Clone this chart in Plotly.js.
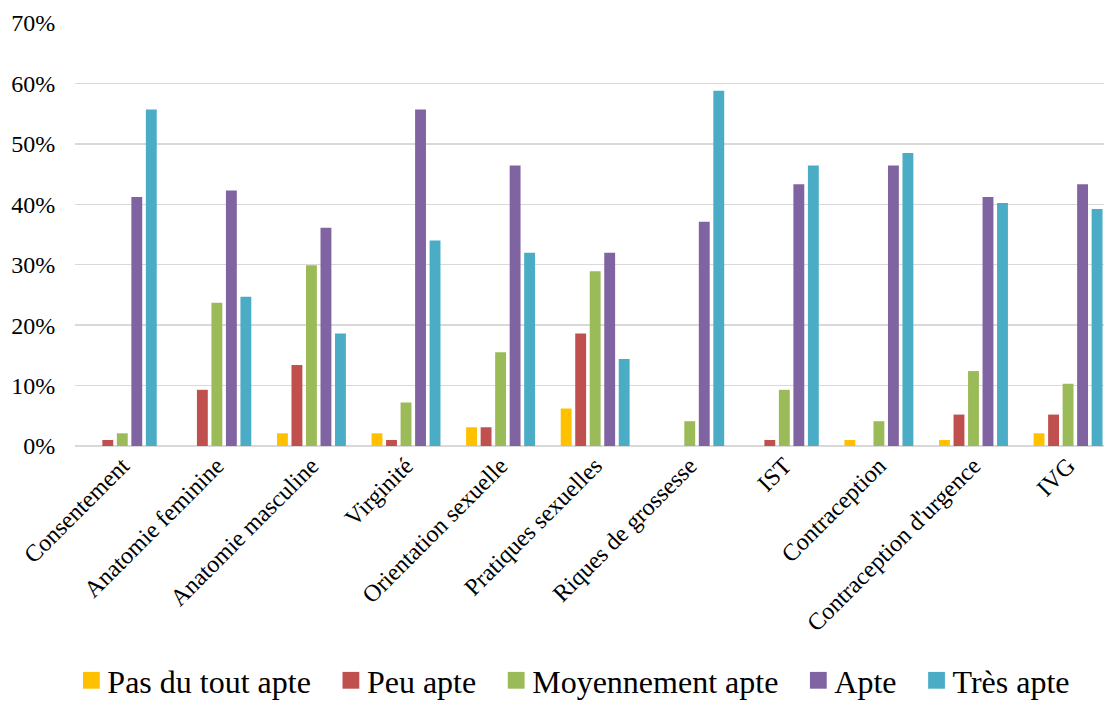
<!DOCTYPE html>
<html>
<head>
<meta charset="utf-8">
<script src="https://cdn.plot.ly/plotly-3.0.1.min.js"></script>
<style>html,body{margin:0;padding:0;background:#fff;}#chart{width:1104px;height:708px;}</style>
</head>
<body>
<div id="chart"></div>
<script>
const categories = ["Consentement","Anatomie feminine","Anatomie masculine","Virginité","Orientation sexuelle","Pratiques sexuelles","Riques de grossesse","IST","Contraception","Contraception d'urgence","IVG"];
const seriesNames = ["Pas du tout apte","Peu apte","Moyennement apte","Apte","Très apte"];
const pasDuTout = [0, 0, 2.1, 2.1, 3.1, 6.2, 0, 0, 1.0, 1.0, 2.1];
const peu = [1.0, 9.3, 13.4, 1.0, 3.1, 18.6, 0, 1.0, 0, 5.2, 5.2];
const moyen = [2.1, 23.7, 29.9, 7.2, 15.5, 28.9, 4.1, 9.3, 4.1, 12.4, 10.3];
const apte = [41.2, 42.3, 36.1, 55.7, 46.4, 32.0, 37.1, 43.3, 46.4, 41.2, 43.3];
const tresApte = [55.7, 24.7, 18.6, 34.0, 32.0, 14.4, 58.8, 46.4, 48.5, 40.2, 39.2];
const colors = ["#FFC000","#C0504D","#9BBB59","#8064A2","#4BACC6"];

const values = [pasDuTout, peu, moyen, apte, tresApte];
const traces = values.map((v, i) => ({
  type: 'bar',
  name: seriesNames[i],
  x: categories.map((c, j) => j),
  y: v,
  marker: {color: colors[i], line: {width: 0}},
  hoverinfo: 'name+y'
}));

const font = "Liberation Serif, Times New Roman, serif";
const layout = {
  width: 1104, height: 708,
  margin: {l: 75, r: 0, t: 23, b: 255},
  paper_bgcolor: '#fff', plot_bgcolor: '#fff',
  barmode: 'group',
  bargap: 0.233,
  bargroupgap: 0.25,
  font: {family: font, color: '#000'},
  xaxis: {
    range: [-0.5, 10.38],
    tickmode: 'array',
    tickvals: categories.map((c, j) => j),
    ticktext: categories,
    tickangle: -45,
    tickfont: {family: font, size: 24, color: '#000'},
    showgrid: false, zeroline: false, showline: false,
    ticks: '', ticklen: 0
  },
  yaxis: {
    range: [0, 70],
    dtick: 10,
    ticksuffix: '%',
    tickfont: {family: font, size: 24, color: '#000'},
    showgrid: true, gridcolor: '#d9d9d9', gridwidth: 1.5,
    zeroline: true, zerolinecolor: '#d9d9d9', zerolinewidth: 1.5,
    showline: false,
    ticks: 'outside', ticklen: 14, tickcolor: 'rgba(0,0,0,0)'
  },
  legend: {
    orientation: 'h',
    x: 0.461, xanchor: 'center',
    y: -0.556, yanchor: 'middle',
    font: {family: font, size: 32, color: '#000'},
    itemwidth: 30,
    bgcolor: 'rgba(0,0,0,0)',
    traceorder: 'normal'
  },
  showlegend: true
};

Plotly.newPlot('chart', traces, layout, {displayModeBar: false, staticPlot: true}).then(gd => {
  gd.querySelectorAll('.legendpoints path').forEach(p => {
    p.setAttribute('transform', 'translate(24,0) scale(1.4)');
  });
  gd.querySelectorAll('.legend .traces').forEach((g, i) => {
    const t = g.getAttribute('transform') || '';
    g.setAttribute('transform', t + ' translate(' + (i * 11) + ',0)');
  });
  gd.querySelectorAll('.legend [clip-path], .legend[clip-path]').forEach(e => {
    e.removeAttribute('clip-path');
  });
});
</script>
</body>
</html>
